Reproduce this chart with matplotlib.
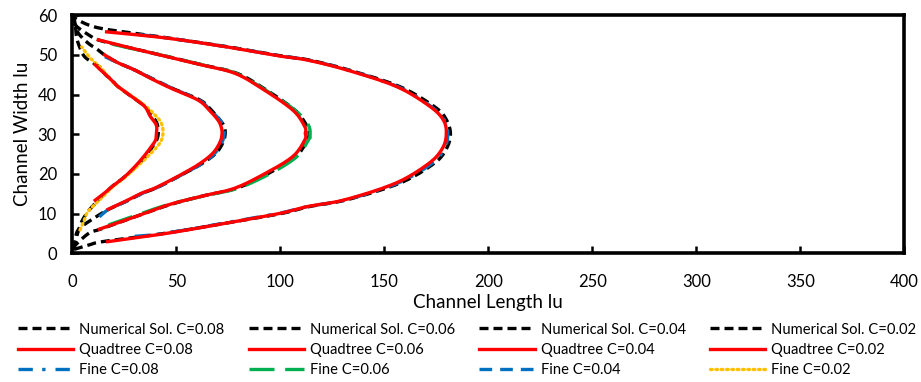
import matplotlib
matplotlib.use("Agg")
import matplotlib.pyplot as plt
import numpy as np

plt.rcParams['font.family'] = ['Lato', 'DejaVu Sans']

# ---------------- data (y = channel width, x = channel length) ----------------
num_08_y = [1.0, 2.1, 3.0, 5.1, 8.0, 10.1, 11.8, 13.5, 17.7, 22.7, 26.5, 30.3, 34.0, 37.0, 42.0, 46.2, 48.7, 49.7, 51.7, 54.2, 56.3, 57.5, 59.2, 59.7]
num_08_x = [0.8, 8.0, 15.0, 45.0, 78.0, 101.0, 114.0, 132.0, 157.5, 174.0, 180.0, 181.8, 179.5, 174.0, 157.5, 133.0, 114.0, 101.0, 79.0, 47.0, 18.0, 8.0, 1.5, 0.8]
quad_08_y = [2.95, 5.1, 8.0, 10.1, 11.8, 13.5, 17.7, 22.7, 26.5, 30.0, 33.5, 37.0, 42.0, 46.2, 48.7, 49.7, 51.7, 54.2, 55.8]
quad_08_x = [17.0, 46.0, 78.0, 100.0, 113.0, 131.0, 155.5, 171.5, 178.0, 179.8, 178.5, 172.0, 156.0, 132.0, 113.0, 100.0, 78.0, 46.0, 16.5]
fine_08_y = [4.3, 5.1, 8.0, 10.1, 11.8, 13.5, 17.7, 22.7, 26.5, 30.0, 33.5, 37.0, 42.0, 46.2, 48.7, 49.7, 51.7, 54.2, 55.2]
fine_08_x = [30.0, 45.0, 77.0, 99.5, 113.0, 131.5, 156.5, 173.0, 179.0, 180.5, 179.0, 172.5, 156.5, 132.5, 113.5, 100.5, 78.5, 46.5, 31.0]

num_06_y = [1.0, 2.1, 5.1, 6.1, 9.0, 12.2, 14.5, 16.4, 20.2, 24.4, 28.6, 30.2, 31.9, 36.1, 41.6, 45.4, 47.5, 49.5, 51.5, 53.6, 55.0, 57.5, 59.6]
num_06_x = [0.5, 1.5, 8.0, 13.5, 29.0, 46.5, 63.0, 79.0, 94.5, 107.5, 113.0, 113.8, 113.0, 107.0, 92.0, 79.0, 62.5, 46.5, 30.0, 13.5, 8.0, 1.5, 0.5]
quad_06_y = [6.1, 9.0, 12.2, 14.5, 16.4, 20.2, 24.4, 28.6, 30.2, 31.9, 36.1, 41.6, 45.4, 47.5, 49.5, 51.5, 53.8]
quad_06_x = [13.0, 29.0, 46.0, 63.0, 78.0, 93.0, 106.0, 111.8, 112.0, 111.8, 106.0, 91.0, 78.0, 62.0, 46.0, 30.0, 12.5]
fine_06_y = [7.2, 9.0, 12.2, 14.5, 16.4, 20.2, 24.4, 28.6, 29.4, 32.3, 36.1, 41.6, 45.4, 47.5, 49.5, 51.5, 52.9]
fine_06_x = [17.5, 27.5, 45.5, 63.5, 79.5, 95.5, 108.0, 113.5, 114.3, 113.5, 107.0, 91.5, 78.5, 62.5, 46.5, 29.5, 17.5]

num_04_y = [1.0, 3.0, 5.9, 8.4, 11.1, 13.0, 15.1, 16.4, 18.5, 20.2, 22.5, 25.2, 28.0, 30.2, 32.0, 33.6, 36.0, 38.6, 41.6, 44.0, 46.2, 48.0, 50.0, 51.2, 53.0, 55.4, 57.5, 59.6]
num_04_x = [0.5, 1.3, 2.8, 9.0, 17.5, 25.5, 33.5, 40.0, 48.0, 54.0, 62.0, 69.0, 72.5, 73.5, 73.0, 71.0, 67.0, 61.5, 48.0, 38.5, 30.0, 22.0, 15.5, 12.5, 7.5, 3.0, 1.5, 0.5]
quad_04_y = [11.1, 13.0, 15.1, 16.4, 18.5, 20.2, 22.5, 25.2, 28.0, 30.2, 32.0, 33.6, 36.0, 38.6, 41.6, 44.0, 46.2, 48.0, 50.0]
quad_04_x = [17.2, 25.0, 33.0, 39.5, 47.5, 53.5, 61.0, 67.5, 71.0, 72.0, 71.5, 70.0, 66.0, 60.5, 47.5, 38.0, 30.0, 22.0, 15.5]
fine_04_y = [9.2, 11.1, 13.0, 15.1, 16.4, 18.5, 20.2, 22.5, 25.2, 28.0, 30.2, 32.0, 33.6, 36.0, 38.6, 41.6, 44.0, 46.2, 48.0, 49.6]
fine_04_x = [13.0, 17.5, 25.5, 33.5, 40.0, 48.0, 54.0, 62.0, 68.5, 72.0, 73.0, 72.5, 71.0, 66.5, 61.0, 48.0, 38.5, 30.0, 22.0, 15.5]

num_02_y = [1.0, 2.5, 5.0, 8.0, 10.5, 12.6, 14.5, 16.8, 19.0, 21.8, 24.5, 26.9, 28.5, 30.0, 31.5, 33.0, 35.0, 37.0, 39.5, 42.0, 43.7, 45.0, 46.6, 47.5, 49.5, 52.0, 54.6, 57.5, 59.6]
num_02_x = [0.5, 1.2, 2.5, 4.5, 7.5, 11.0, 14.5, 19.0, 24.5, 30.5, 35.5, 38.5, 40.5, 41.3, 41.2, 40.5, 38.0, 35.0, 28.5, 22.0, 19.0, 16.0, 14.0, 11.5, 6.0, 3.5, 2.0, 1.5, 0.5]
quad_02_y = [13.4, 15.0, 16.8, 19.0, 21.8, 24.5, 26.9, 28.5, 30.0, 32.3, 34.5, 37.0, 39.5, 42.0, 43.7, 45.5, 47.5]
quad_02_x = [11.0, 15.0, 19.0, 24.5, 30.0, 34.5, 38.0, 40.0, 40.4, 40.4, 37.5, 34.8, 28.5, 22.0, 18.8, 15.0, 11.0]
fine_02_y = [5.9, 8.0, 10.5, 13.9, 16.8, 19.0, 21.8, 24.5, 27.7, 30.2, 32.8, 35.0, 37.0, 39.5, 42.0, 44.0, 46.6, 49.0, 52.0]
fine_02_x = [3.7, 5.5, 7.5, 14.0, 19.5, 25.0, 31.0, 36.5, 42.0, 43.6, 42.8, 39.5, 35.5, 29.0, 22.0, 18.0, 14.0, 9.0, 4.5]

x_ticks = [0, 50, 100, 150, 200, 250, 300, 350, 400]
y_ticks = [0, 10, 20, 30, 40, 50, 60]


def smooth(xs, ys, n=10):
    """Catmull-Rom rendering of a smoothed line (like a spreadsheet 'smoothed line')."""
    p = np.column_stack([xs, ys]).astype(float)
    p = np.vstack([p[0], p, p[-1]])
    out = []
    t = np.linspace(0, 1, n, endpoint=False)[:, None]
    for i in range(1, len(p) - 2):
        p0, p1, p2, p3 = p[i - 1], p[i], p[i + 1], p[i + 2]
        seg = 0.5 * ((2 * p1) + (-p0 + p2) * t + (2 * p0 - 5 * p1 + 4 * p2 - p3) * t ** 2
                     + (-p0 + 3 * p1 - 3 * p2 + p3) * t ** 3)
        out.append(seg)
    out.append(p[-2][None, :])
    out = np.vstack(out)
    return out[:, 0], out[:, 1]


# ---------------- figure ----------------
fig = plt.figure(figsize=(9.21, 3.82), dpi=100)
ax = fig.add_axes([72.3 / 921, 1 - 253.4 / 382, (904.3 - 72.3) / 921, (253.4 - 15.2) / 382])

LW = 2.4
num_style = dict(color='black', lw=LW, dashes=(2.7, 1.5))
quad_style = dict(color='#FF0000', lw=LW, linestyle='-')
fine_styles = {
    '0.08': dict(color='#0070C0', lw=LW, dashes=(4.3, 2.8, 1.0, 3.0)),
    '0.06': dict(color='#00B050', lw=LW, dashes=(7.5, 3.2)),
    '0.04': dict(color='#0070C0', lw=LW, dashes=(3.8, 2.4)),
    '0.02': dict(color='#FFC000', lw=LW, dashes=(0.5, 1.1), dash_capstyle='round'),
}

series = [
    ('0.08', num_08_x, num_08_y, quad_08_x, quad_08_y, fine_08_x, fine_08_y),
    ('0.06', num_06_x, num_06_y, quad_06_x, quad_06_y, fine_06_x, fine_06_y),
    ('0.04', num_04_x, num_04_y, quad_04_x, quad_04_y, fine_04_x, fine_04_y),
    ('0.02', num_02_x, num_02_y, quad_02_x, quad_02_y, fine_02_x, fine_02_y),
]

handles = []
for c, nx, ny, qx, qy, fx, fy in series:
    h1, = ax.plot(*smooth(nx, ny), label=f'Numerical Sol. C={c}', zorder=2, **num_style)
    h2, = ax.plot(*smooth(qx, qy), label=f'Quadtree C={c}', zorder=4, **quad_style)
    h3, = ax.plot(*smooth(fx, fy), label=f'Fine C={c}', zorder=3, **fine_styles[c])
    handles += [h1, h2, h3]

ax.set_xlim(0, 400)
ax.set_ylim(0, 60)
ax.set_xticks(x_ticks)
ax.set_yticks(y_ticks)
for s in ax.spines.values():
    s.set_linewidth(2.6)
    s.set_color('black')
ax.tick_params(direction='in', length=5, width=1.8, labelsize=12, colors='black')
ax.tick_params(axis='x', pad=15)
ax.tick_params(axis='y', pad=11)
ax.set_xlabel('Channel Length lu', fontsize=13.5, labelpad=2.5)
ax.set_ylabel('Channel Width lu', fontsize=13.5, labelpad=5)

leg = fig.legend(handles=handles, loc='upper left', bbox_to_anchor=(18 / 921, 1 - 322.5 / 382),
                 ncol=4, frameon=False, fontsize=10.6, handlelength=3.75, handletextpad=0.4,
                 columnspacing=1.66, labelspacing=0.42, borderaxespad=0, borderpad=0)

fig.savefig('out.png', dpi=100)
